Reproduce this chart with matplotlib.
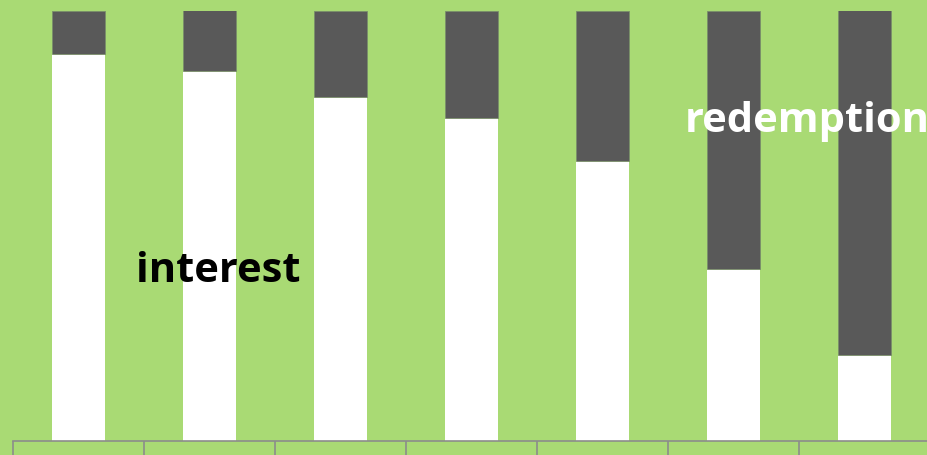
import matplotlib
matplotlib.use("Agg")
import matplotlib.pyplot as plt
import numpy as np

categories = ["1", "2", "3", "4", "5", "6", "7"]
interest = [0.90, 0.86, 0.80, 0.75, 0.65, 0.40, 0.20]
redemption = [1 - v for v in interest]

bg = "#A9DA74"
fig = plt.figure(figsize=(9.27, 4.56), dpi=100, facecolor=bg)
W, H = 927, 456
ax = fig.add_axes([13 / W, 14.5 / H, 917 / W, 430 / H])
ax.set_facecolor(bg)
x = np.arange(len(categories))
ax.bar(x, interest, width=0.40, color="white", edgecolor="none")
ax.bar(x, redemption, bottom=interest, width=0.40, color="#595959",
       edgecolor="#7a8f6a", linewidth=0.6)
ax.set_xlim(-0.5, len(categories) - 0.5)
ax.set_ylim(0, 1)
for s in ["top", "right", "left"]:
    ax.spines[s].set_visible(False)
ax.spines["bottom"].set_color("#8c8c8c")
ax.spines["bottom"].set_linewidth(1.2)
ax.set_yticks([])
ax.set_xticks(np.arange(-0.5, len(categories) + 0.5, 1))
ax.set_xticklabels([])
ax.tick_params(axis="x", length=16, width=1.2, color="#8c8c8c", direction="out")

ax.text(1.07, 0.395, "interest", fontsize=30, fontweight="bold", family="Open Sans",
        color="black", ha="center", va="center")
ax.text(5.56, 0.745, "redemption", fontsize=30, fontweight="bold", family="Open Sans",
        color="white", ha="center", va="center", clip_on=False)
fig.savefig("out.png", dpi=100, facecolor=bg)
